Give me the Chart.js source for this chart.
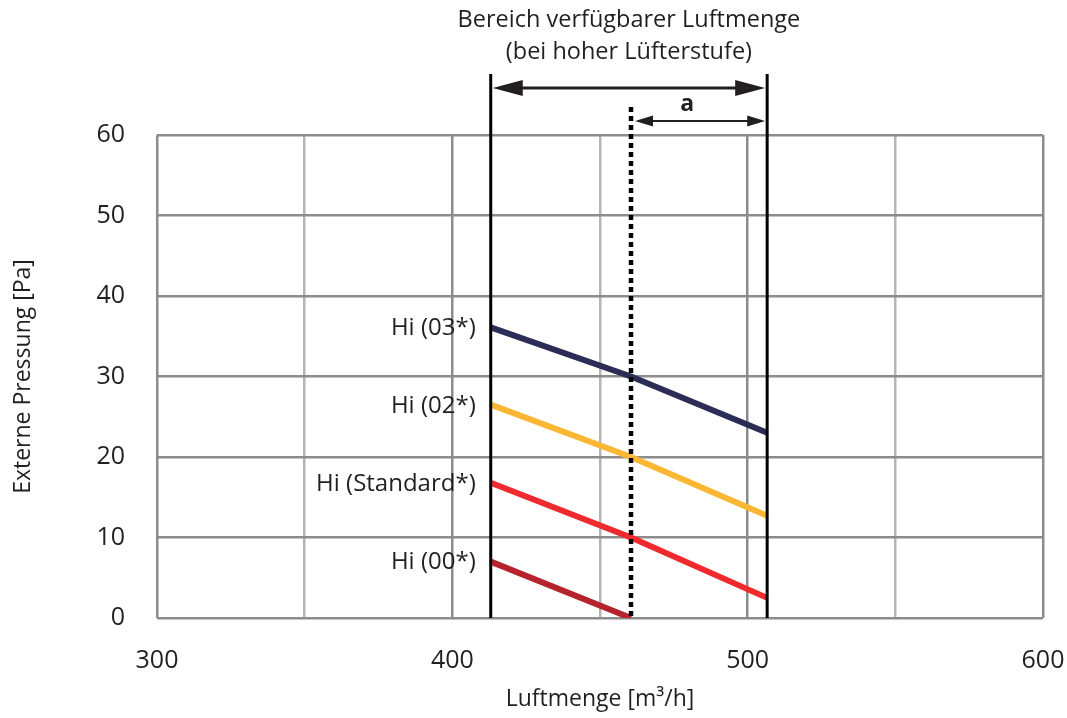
<!DOCTYPE html>
<html>
<head>
<meta charset="utf-8">
<script src="https://cdn.jsdelivr.net/npm/chart.js@4"></script>
<style>
  html, body { margin: 0; padding: 0; background: #fff; }
  #wrap { width: 1067px; height: 718px; position: relative; }
</style>
</head>
<body>
<div id="wrap"><canvas id="myChart" width="1067" height="718"></canvas></div>
<script>
// data
const seriesNames = ["Hi (03*)", "Hi (02*)", "Hi (Standard*)", "Hi (00*)"];
const seriesColors = ["#2b2d57", "#fbb733", "#ee2a2e", "#b5232d"];
const airflow = [413, 460.5, 506.6];
const hi03 = [36.1, 30.0, 23.0];
const hi02 = [26.5, 20.0, 12.7];
const hiStd = [16.8, 10.0, 2.5];
const hi00 = [7.0, 0.0];
const rangeMin = 413;
const rangeMax = 506.6;
const ratedFlow = 460.5;
const xTicks = [300, 400, 500, 600];

const fontName = "'Open Sans', 'Noto Sans', sans-serif";

function toPoints(values) {
  return values.map((v, i) => ({ x: airflow[i], y: v }));
}

function arrowHead(ctx, x, y, dir, len, half) {
  ctx.beginPath();
  ctx.moveTo(x, y);
  ctx.lineTo(x - dir * len, y - half);
  ctx.lineTo(x - dir * len, y + half);
  ctx.closePath();
  ctx.fill();
}

const annotations = {
  id: "annotations",
  afterDatasetsDraw(chart) {
    const ctx = chart.ctx;
    const xs = chart.scales.x;
    const area = chart.chartArea;
    const xa = xs.getPixelForValue(rangeMin);
    const xb = xs.getPixelForValue(rangeMax);
    const xr = xs.getPixelForValue(ratedFlow);
    ctx.save();

    // range lines
    ctx.strokeStyle = "#000";
    ctx.lineWidth = 3;
    [xa, xb].forEach((x) => {
      ctx.beginPath();
      ctx.moveTo(x, 74);
      ctx.lineTo(x, area.bottom);
      ctx.stroke();
    });

    // rated flow, dotted
    ctx.lineWidth = 4.5;
    ctx.setLineDash([5, 4]);
    ctx.beginPath();
    ctx.moveTo(xr, 107);
    ctx.lineTo(xr, area.bottom);
    ctx.stroke();
    ctx.setLineDash([]);

    // big arrow
    ctx.fillStyle = "#231f20";
    ctx.strokeStyle = "#231f20";
    ctx.lineWidth = 3;
    ctx.beginPath();
    ctx.moveTo(xa + 15, 88);
    ctx.lineTo(xb - 15, 88);
    ctx.stroke();
    arrowHead(ctx, xa + 2, 88, -1, 30, 8);
    arrowHead(ctx, xb - 2, 88, 1, 30, 8);

    // "a" arrow
    ctx.lineWidth = 2;
    ctx.beginPath();
    ctx.moveTo(xr + 10, 121);
    ctx.lineTo(xb - 10, 121);
    ctx.stroke();
    arrowHead(ctx, xr + 4, 121, -1, 18, 5.5);
    arrowHead(ctx, xb - 2, 121, 1, 18, 5.5);

    ctx.textAlign = "center";
    ctx.textBaseline = "middle";
    ctx.font = "bold 23px " + fontName;
    ctx.fillText("a", (xr + xb) / 2 - 12, 104);

    ctx.fillStyle = "#231f20";
    ctx.font = "23.5px " + fontName;
    ctx.fillText("Bereich verfügbarer Luftmenge", (xa + xb) / 2, 20);
    ctx.fillText("(bei hoher Lüfterstufe)", (xa + xb) / 2, 52);

    // series labels at start of each line
    ctx.textAlign = "right";
    ctx.font = "24px " + fontName;
    chart.data.datasets.forEach((ds, i) => {
      const p = chart.getDatasetMeta(i).data[0];
      ctx.fillText(ds.label, p.x - 15, p.y + 1);
    });

    ctx.restore();
  },
};

const datasets = [hi03, hi02, hiStd, hi00].map((vals, i) => ({
  label: seriesNames[i],
  data: toPoints(vals),
  borderColor: seriesColors[i],
  borderWidth: 6,
  pointRadius: 0,
  tension: 0,
  fill: false,
}));

new Chart(document.getElementById("myChart"), {
  type: "line",
  data: { datasets: datasets },
  plugins: [annotations],
  options: {
    responsive: false,
    animation: false,
    events: [],
    layout: { padding: { top: 135, right: 24, left: 0, bottom: 0 } },
    plugins: {
      legend: { display: false },
      tooltip: { enabled: false },
    },
    scales: {
      x: {
        type: "linear",
        min: 300,
        max: 600,
        afterBuildTicks: (scale) => {
          scale.ticks = [300, 350, 400, 450, 500, 550, 600].map((v) => ({ value: v }));
        },
        ticks: {
          autoSkip: false,
          maxRotation: 0,
          padding: 28,
          color: "#231f20",
          font: { family: fontName, size: 25 },
          callback: (v) => (xTicks.includes(v) ? String(v) : ""),
        },
        grid: {
          drawTicks: false,
          lineWidth: 2.5,
          color: (c) => (c.tick && c.tick.value % 100 === 0 ? "#8c8c8c" : "#b5b5b5"),
        },
        border: { display: false },
        title: {
          display: true,
          text: "Luftmenge [m³/h]",
          color: "#231f20",
          font: { family: fontName, size: 23 },
          padding: { top: 8, bottom: 5 },
        },
        afterFit: (scale) => {
          scale.height = 100;
          scale.paddingRight = 0;
          scale.paddingLeft = 0;
        },
      },
      y: {
        type: "linear",
        min: 0,
        max: 60,
        ticks: {
          stepSize: 10,
          padding: 32,
          color: "#231f20",
          font: { family: fontName, size: 25 },
        },
        grid: { drawTicks: false, lineWidth: 2.5, color: "#8c8c8c" },
        border: { display: false },
        title: {
          display: true,
          text: "Externe Pressung [Pa]",
          color: "#231f20",
          font: { family: fontName, size: 23 },
          padding: { top: 10, bottom: 30 },
        },
        afterFit: (scale) => { scale.width = 157; },
      },
    },
  },
});
</script>
</body>
</html>
